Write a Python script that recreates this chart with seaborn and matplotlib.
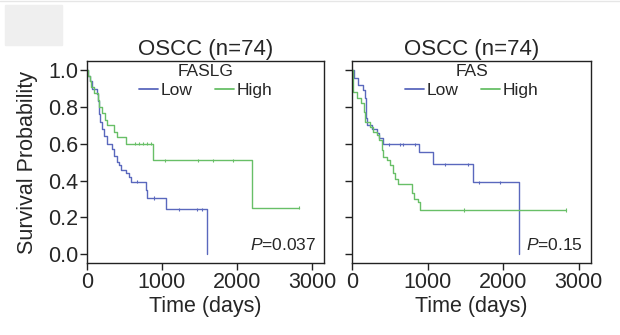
import numpy as np
import pandas as pd
import matplotlib
matplotlib.use("Agg")
import matplotlib.pyplot as plt
from matplotlib.patches import Rectangle
import seaborn as sns

# ---------------- data ----------------
panels = ["FASLG", "FAS"]
title_text = "OSCC (n=74)"
p_values = ["0.037", "0.15"]
groups = ["Low", "High"]

faslg_low_t = [0, 20, 40, 75, 141, 155, 160, 164, 180, 200, 230, 274, 341, 363, 407, 430,
               452, 518, 562, 585, 784, 806, 1050, 1596]
faslg_low_s = [1.0, 0.97, 0.94, 0.90, 0.87, 0.83, 0.79, 0.76, 0.72, 0.68, 0.64, 0.60, 0.57,
               0.535, 0.50, 0.485, 0.457, 0.44, 0.42, 0.394, 0.35, 0.304, 0.244, 0.0]
faslg_low_cens = [665, 900, 1227, 1471, 1537]

faslg_high_t = [0, 15, 40, 61, 100, 145, 170, 208, 240, 266, 363, 400, 518, 886, 2202, 2827]
faslg_high_s = [1.0, 0.97, 0.94, 0.91, 0.875, 0.84, 0.80, 0.765, 0.73, 0.70, 0.665, 0.635,
                0.60, 0.51, 0.253, 0.253]
faslg_high_cens = [650, 700, 750, 800, 850, 1041, 1484, 1676, 1950, 2827]

fas_low_t = [0, 20, 80, 139, 169, 180, 185, 190, 255, 324, 359, 412, 887, 1064, 1601, 2208]
fas_low_s = [1.0, 0.96, 0.92, 0.89, 0.85, 0.80, 0.74, 0.70, 0.68, 0.66, 0.63, 0.597, 0.557,
             0.488, 0.39, 0.0]
fas_low_cens = [492, 634, 678, 834, 1233, 1534, 1676, 1955]

fas_high_t = [0, 8, 15, 60, 110, 150, 169, 235, 279, 324, 359, 391, 412, 457, 501, 537, 568,
              612, 790, 820, 865, 900, 2838]
fas_high_s = [1.0, 0.94, 0.88, 0.85, 0.82, 0.77, 0.72, 0.69, 0.665, 0.647, 0.62, 0.566, 0.53,
              0.51, 0.485, 0.44, 0.41, 0.38, 0.33, 0.30, 0.285, 0.24, 0.24]
fas_high_cens = [1485, 2838]

x_ticks = [0, 1000, 2000, 3000]
y_ticks = [0.0, 0.2, 0.4, 0.6, 0.8, 1.0]

curves = {
    "FASLG": {"Low": (faslg_low_t, faslg_low_s, faslg_low_cens),
              "High": (faslg_high_t, faslg_high_s, faslg_high_cens)},
    "FAS": {"Low": (fas_low_t, fas_low_s, fas_low_cens),
            "High": (fas_high_t, fas_high_s, fas_high_cens)},
}

# ---------------- style ----------------
sns.set_theme(style="ticks")
plt.rcParams["font.family"] = ["Liberation Sans", "DejaVu Sans"]
plt.rcParams["mathtext.fontset"] = "custom"
plt.rcParams["mathtext.it"] = "Liberation Sans:italic"
plt.rcParams["mathtext.rm"] = "Liberation Sans"

palette = {"Low": "#5a68bd", "High": "#68bf67"}

fig = plt.figure(figsize=(6.2, 3.35), dpi=100)
fig.patch.set_facecolor("white")
fig.patches.append(Rectangle((5 / 620, 1 - 45 / 335), 57 / 620, 40 / 335,
                             transform=fig.transFigure, color="#efefef", zorder=0))
fig.add_artist(plt.Line2D([0, 1], [1 - 1 / 335, 1 - 1 / 335], transform=fig.transFigure,
                          color="#e6e6e6", lw=1))

ax_rects = [
    [86.7 / 620, 1 - 263.3 / 335, (324.3 - 86.7) / 620, (263.3 - 61) / 335],
    [352.3 / 620, 1 - 263.3 / 335, (591 - 352.3) / 620, (263.3 - 61) / 335],
]

for i, gene in enumerate(panels):
    ax = fig.add_axes(ax_rects[i])
    rows = []
    cens_rows = []
    for g in groups:
        t, s, c = curves[gene][g]
        for tt, ss in zip(t, s):
            rows.append({"time": tt, "surv": ss, "group": g})
        t_arr = np.array(t)
        s_arr = np.array(s)
        for ct in c:
            idx = np.searchsorted(t_arr, ct, side="right") - 1
            cens_rows.append({"time": ct, "surv": s_arr[idx], "group": g})
    df = pd.DataFrame(rows)
    dfc = pd.DataFrame(cens_rows)

    sns.lineplot(data=df, x="time", y="surv", hue="group", hue_order=groups,
                 palette=palette, estimator=None, sort=False, drawstyle="steps-post",
                 linewidth=1.0, ax=ax, legend=True)
    sns.scatterplot(data=dfc, x="time", y="surv", hue="group", hue_order=groups,
                    palette=palette, marker="|", s=6, linewidth=0.8, ax=ax, legend=False)

    ax.set_xlim(0, 3165)
    ax.set_ylim(-0.05, 1.05)
    ax.set_xticks(x_ticks)
    ax.set_yticks(y_ticks)
    ax.set_xticklabels([str(v) for v in x_ticks])
    if i == 0:
        ax.set_yticklabels([f"{v:.1f}" for v in y_ticks])
        ax.set_ylabel("Survival Probability", fontsize=15.5)
        ax.yaxis.set_label_coords(-0.205, 0.5)
    else:
        ax.set_yticklabels([])
        ax.set_ylabel("")
    ax.set_xlabel("Time (days)", fontsize=15.5, labelpad=2.5)
    ax.set_title(title_text, fontsize=16, pad=4)
    ax.tick_params(axis="both", labelsize=15.5, length=5, width=1, color="#222222",
                   direction="out", pad=1)
    for sp in ax.spines.values():
        sp.set_visible(True)
        sp.set_color("#222222")
        sp.set_linewidth(1)

    handles, labels = ax.get_legend_handles_labels()
    leg = ax.legend(handles, labels, title=gene, loc="upper center", ncol=2,
                    frameon=False, fontsize=12.5, title_fontsize=12.5,
                    handlelength=1.1, handletextpad=0.15, columnspacing=1.3,
                    borderaxespad=0.1, borderpad=0.1, labelspacing=0.2)
    for h in leg.get_lines():
        h.set_linewidth(1.3)

    ax.text(0.965, 0.066, r"$\it{P}$=" + p_values[i], transform=ax.transAxes,
            ha="right", va="baseline", fontsize=12.5)

fig.savefig("out.png", dpi=100, facecolor="white")
